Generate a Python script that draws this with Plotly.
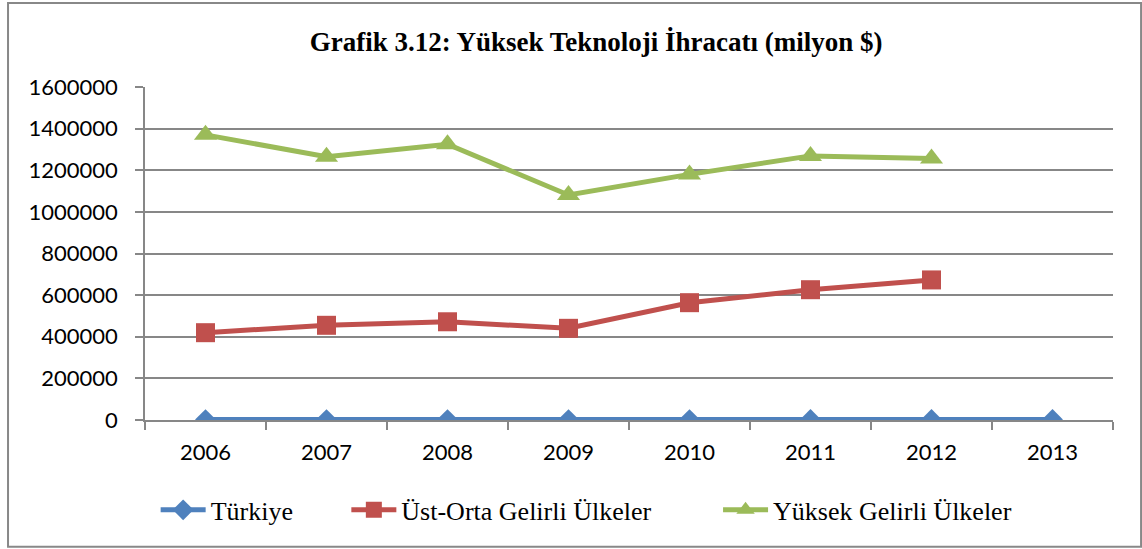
import plotly.graph_objects as go

years = ["2006", "2007", "2008", "2009", "2010", "2011", "2012", "2013"]
turkiye = [1852, 2077, 2249, 2206, 2250, 2389, 2675, 2700]
ust_orta = [419500, 455000, 472000, 440500, 563700, 626000, 673000, None]
yuksek = [1370000, 1265000, 1325000, 1081000, 1180000, 1269000, 1257000, None]

series_names = ["Türkiye", "Üst-Orta Gelirli Ülkeler", "Yüksek Gelirli Ülkeler"]
title_text = "Grafik 3.12: Yüksek Teknoloji İhracatı (milyon $)"
y_ticks = [0, 200000, 400000, 600000, 800000, 1000000, 1200000, 1400000, 1600000]

BLUE = "#4F81BD"
RED = "#C0504D"
GREEN = "#9BBB59"
GRID = "#878787"

fig = go.Figure()
fig.add_trace(go.Scatter(x=years, y=turkiye, name=series_names[0], mode="lines+markers",
                         line=dict(color=BLUE, width=5),
                         marker=dict(symbol="diamond", size=16, color=BLUE),
                         legend="legend"))
fig.add_trace(go.Scatter(x=years, y=ust_orta, name=series_names[1], mode="lines+markers",
                         line=dict(color=RED, width=5),
                         marker=dict(symbol="square", size=19, color=RED),
                         legend="legend2"))
fig.add_trace(go.Scatter(x=years, y=yuksek, name=series_names[2], mode="lines+markers",
                         line=dict(color=GREEN, width=5),
                         marker=dict(symbol="triangle-up", size=20, color=GREEN),
                         legend="legend3"))

legend_font = dict(family="Liberation Serif", size=26, color="#000000")
leg_common = dict(orientation="h", yref="paper", y=-0.27, yanchor="middle",
                  xanchor="left", font=legend_font, bgcolor="rgba(0,0,0,0)",
                  itemwidth=45)

fig.update_layout(
    width=1142, height=549,
    margin=dict(l=145, r=29, t=87, b=129),
    paper_bgcolor="white", plot_bgcolor="white",
    title=dict(text="<b>" + title_text + "</b>", x=0.522, xanchor="center",
               xref="container", y=0.925, yanchor="middle", yref="container",
               font=dict(family="Liberation Serif", size=27, color="#000000")),
    legend=dict(x=0.011, **leg_common),
    legend2=dict(x=0.208, **leg_common),
    legend3=dict(x=0.592, **leg_common),
    showlegend=True,
    xaxis=dict(type="category", range=[-0.5, 7.5], showgrid=False,
               showline=True, linecolor=GRID, linewidth=1.5,
               ticks="outside", tickson="boundaries", ticklen=8, tickwidth=1.5,
               tickcolor=GRID, ticklabelstandoff=12,
               tickfont=dict(family="Lato", size=22, color="#000000")),
    yaxis=dict(range=[0, 1600000], tickvals=y_ticks,
               ticktext=[str(v) for v in y_ticks],
               showgrid=True, gridcolor=GRID, gridwidth=1.5, zeroline=False,
               showline=True, linecolor=GRID, linewidth=1.5,
               ticks="outside", ticklen=8, tickwidth=1.5, tickcolor=GRID,
               ticklabelstandoff=13,
               tickfont=dict(family="Lato", size=22, color="#000000")),
    shapes=[dict(type="rect", xref="paper", yref="paper",
                 x0=-0.1415, x1=1.029, y0=-0.381, y1=1.252,
                 line=dict(color="#888888", width=2), fillcolor="rgba(0,0,0,0)",
                 layer="below")],
)

fig.write_html("out.html", config={"displayModeBar": False},
               post_script="document.body.style.margin='0';document.body.style.padding='0';")
